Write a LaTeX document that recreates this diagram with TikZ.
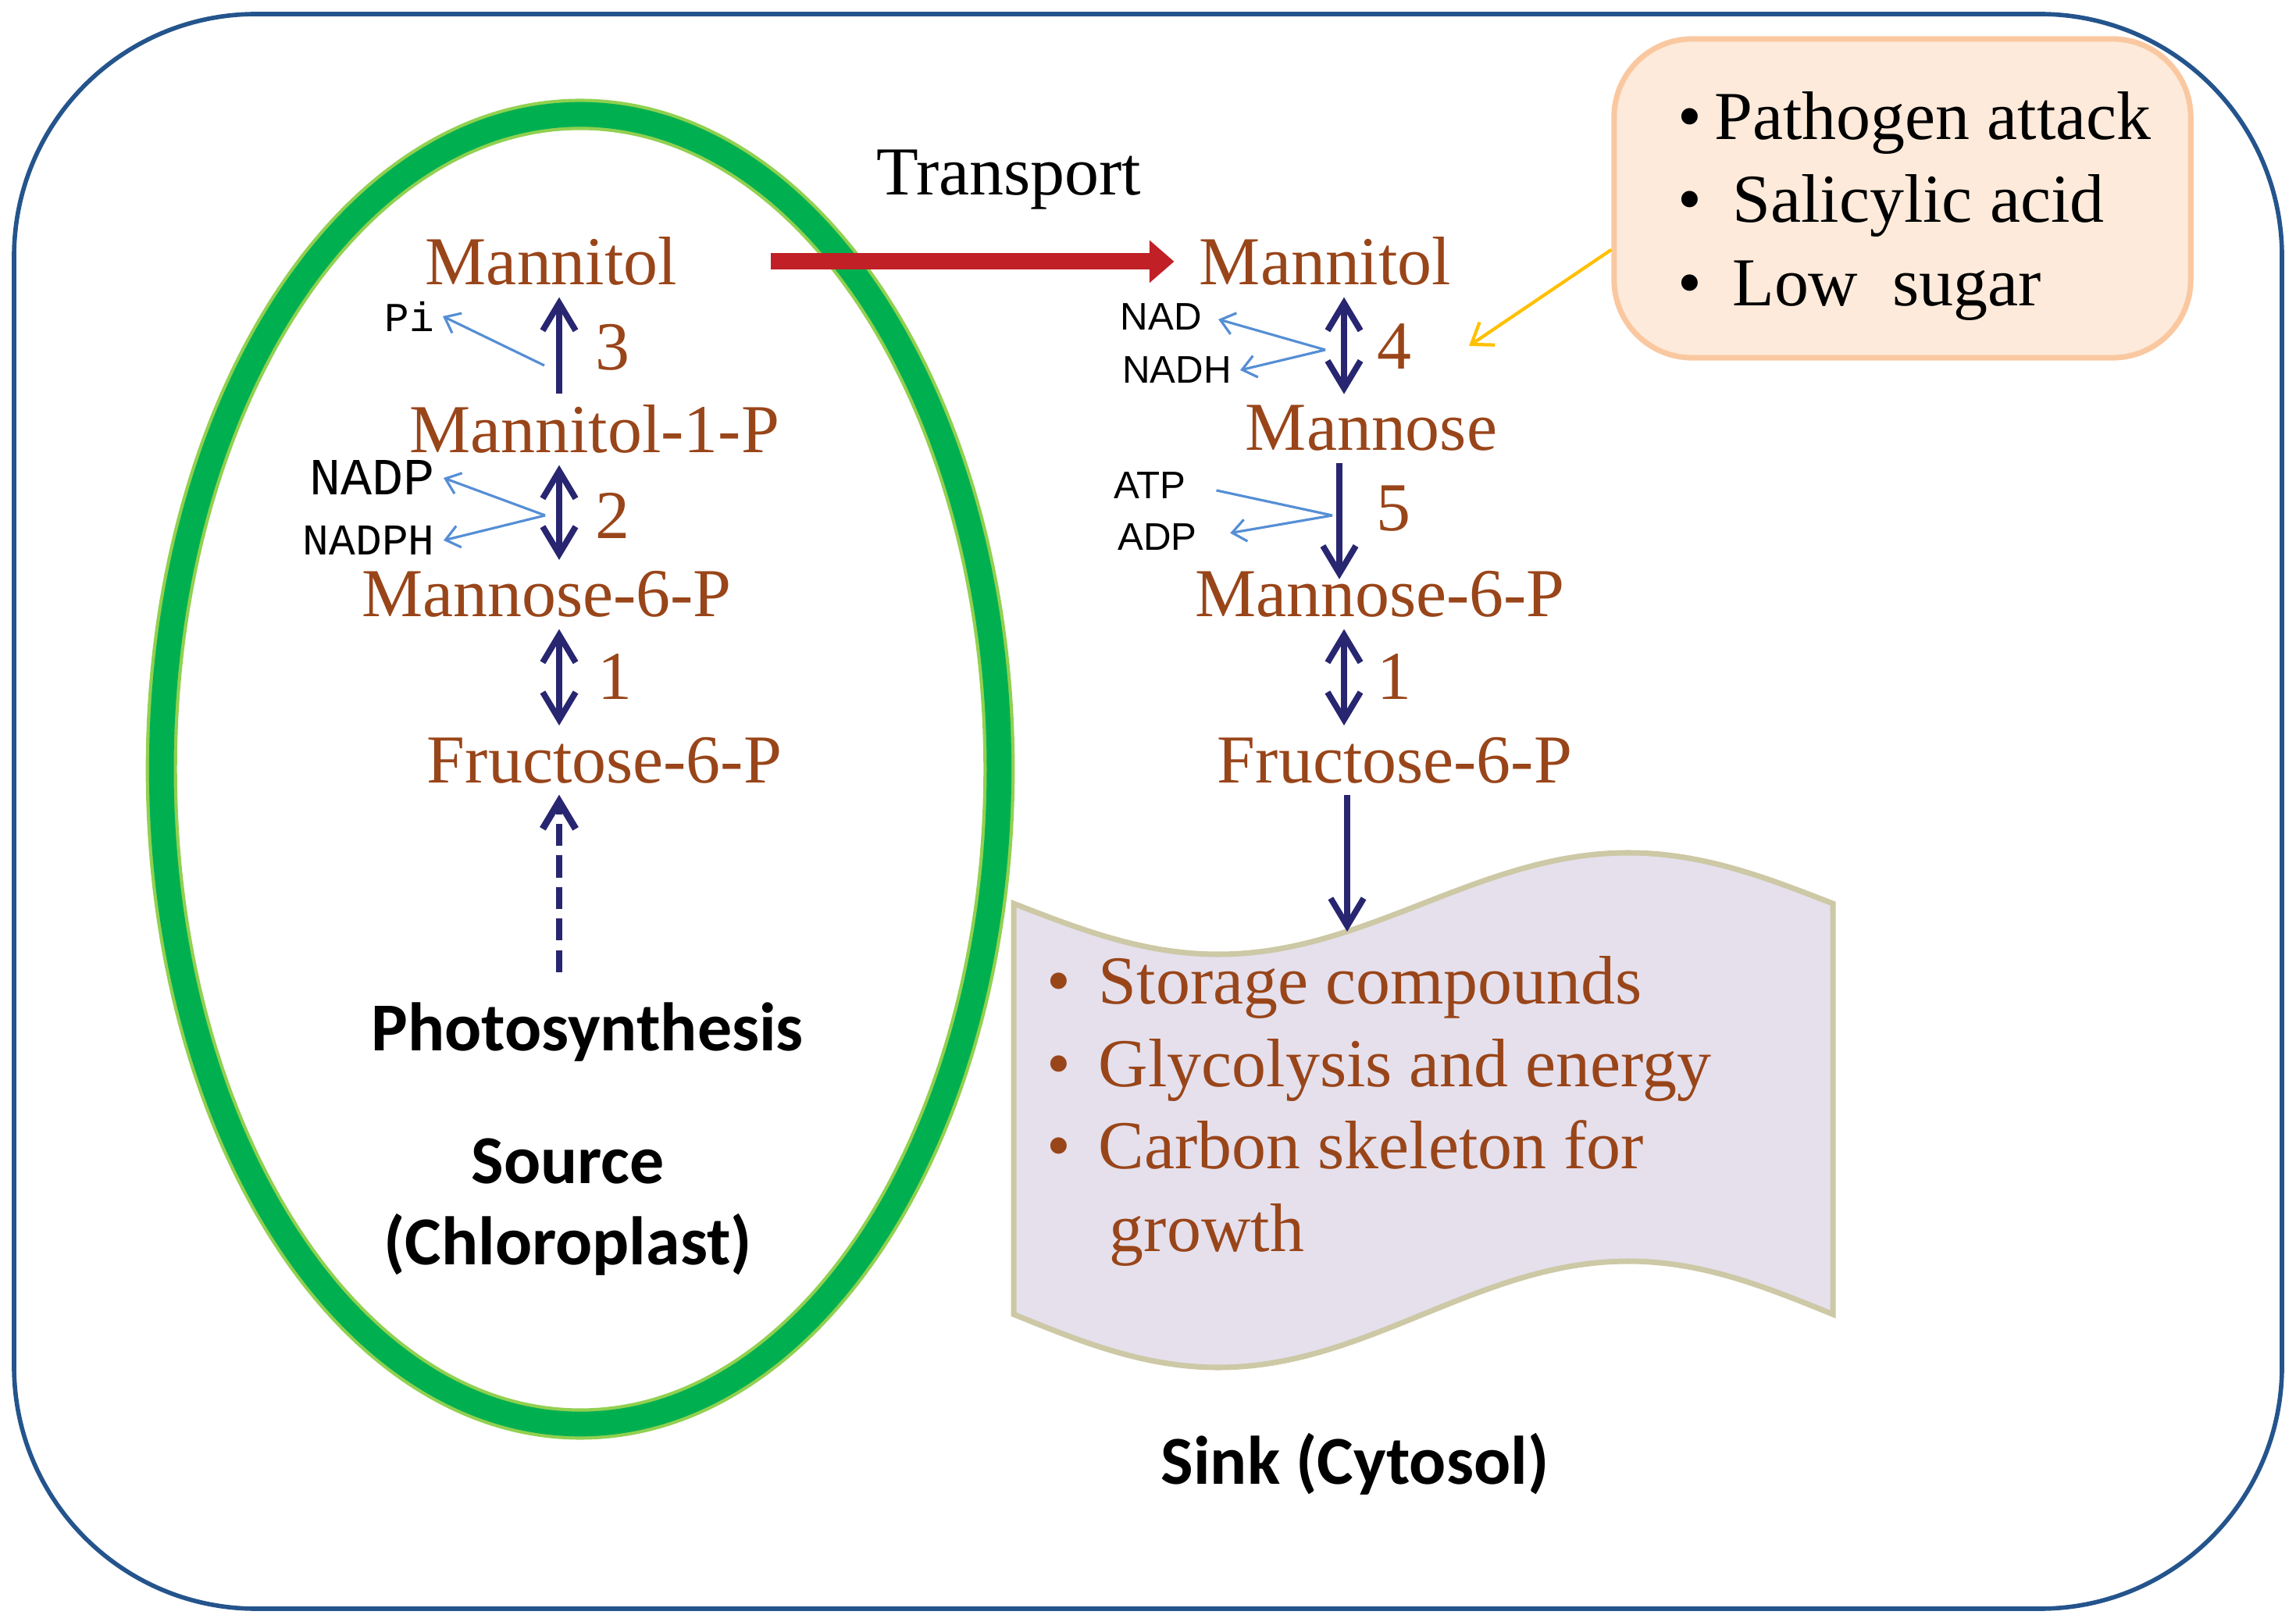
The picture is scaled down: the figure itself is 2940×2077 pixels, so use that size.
\documentclass[tikz,border=0pt]{standalone}
\usepackage{fontspec}
\setmainfont{Liberation Serif}
\newfontfamily\calfont{Carlito}
\newfontfamily\arialfont{Liberation Sans}
\newfontfamily\courfont{Liberation Mono}
\usetikzlibrary{arrows.meta}
\definecolor{frameblue}{RGB}{36,84,140}
\definecolor{leafdark}{RGB}{0,176,80}
\definecolor{leaflight}{RGB}{146,208,80}
\definecolor{metbrown}{RGB}{153,69,26}
\definecolor{enzblue}{RGB}{40,38,112}
\definecolor{sideblue}{RGB}{85,142,213}
\definecolor{transred}{RGB}{192,32,38}
\definecolor{signalgold}{RGB}{255,192,0}
\definecolor{peachfill}{RGB}{253,234,218}
\definecolor{peachline}{RGB}{250,200,160}
\definecolor{wavefill}{RGB}{229,224,236}
\definecolor{waveline}{RGB}{205,200,165}

\begin{document}
\begin{tikzpicture}[x=0.01cm,y=-0.01cm,
	met/.style={anchor=base,inner sep=4pt,text=metbrown,font=\fontsize{25}{30}\selectfont},
	enznum/.style={inner sep=2pt,text=metbrown,font=\fontsize{25}{30}\selectfont},
	cofac/.style={anchor=east,inner sep=3pt},
	cofacs/.style={anchor=east,inner sep=3pt,font=\arialfont\fontsize{14}{17}\selectfont},
	sitelabel/.style={inner sep=4pt,font=\calfont\bfseries\fontsize{25}{30}\selectfont},
	enzarrow/.style={enzblue,line width=2.2pt,>={Straight Barb[length=10pt,width=12pt]},->},
	revarrow/.style={enzarrow,<->},
	sidearrow/.style={sideblue,line width=0.9pt,-{Straight Barb[length=5pt,width=8pt]}}]
	\useasboundingbox (0,0) rectangle (2940,2077);
	% cell and chloroplast
	\draw[frameblue, line width=1.6pt, rounded corners=3.1cm] (18,18) rectangle (2922,2060);
	\coordinate (plast) at (743,985);
	\draw[leaflight, line width=11.4pt] (plast) ellipse [x radius=5.36cm, y radius=8.38cm];
	\draw[leafdark, line width=9pt] (plast) ellipse [x radius=5.36cm, y radius=8.38cm];
	% sink banner
	\draw[fill=wavefill, draw=waveline, line width=2pt] (1298,1157) sin (1560,1222) cos (1822,1157) sin (2085,1092) cos (2347,1157)
		-- (2347,1683) sin (2085,1615) cos (1822,1683) sin (1560,1751) cos (1298,1683) -- cycle;
	\node[anchor=north west, inner sep=0pt, align=left, text=metbrown, font=\fontsize{25}{30}\selectfont] (uses) at (1340,1224)
		{\makebox[18.8pt][l]{\textbullet}Storage compounds\\ \makebox[18.8pt][l]{\textbullet}Glycolysis and energy\\
		 \makebox[18.8pt][l]{\textbullet}Carbon skeleton for\\ \hspace*{22.8pt}growth};
	\node[draw=peachline, fill=peachfill, line width=2pt, rounded corners=1cm, minimum width=7.38cm, minimum height=4.08cm,
		align=left, font=\fontsize{25}{30.4}\selectfont] (cause) at (2436,254)
		{\rule{0pt}{23pt}\hspace*{8.8pt}\makebox[13.4pt][l]{\textbullet}Pathogen attack\\ \hspace*{8.8pt}\makebox[19.9pt][l]{\textbullet}Salicylic acid\\
		 \hspace*{8.8pt}\makebox[19.9pt][l]{\textbullet}Low~~sugar};
	% source side
	\node[met] (lMan) at (706,365) {Mannitol};
	\node[met] (lM1P) at (761,580) {Mannitol-1-P};
	\node[met] (lM6P) at (700,790) {Mannose-6-P};
	\node[met] (lF6P) at (774,1002) {Fructose-6-P};
	\node[enznum] (n3) at (784,445) {3};
	\node[enznum] (n2) at (784,660) {2};
	\node[enznum] (n1l) at (787,866) {1};
	\node[cofac, font=\courfont\fontsize{15}{18}\selectfont] (pi) at (567,405) {Pi};
	\node[cofac, font=\courfont\fontsize{19}{22}\selectfont] (nadp) at (568,612) {NADP};
	\node[cofac, font=\courfont\fontsize{16}{19}\selectfont] (nadph) at (568,692) {NADPH};
	\node[sitelabel] (photo) at (752,1322) {Photosynthesis};
	\node[sitelabel] (src) at (727,1487) {Source};
	\node[sitelabel] (chl) at (727,1594) {(Chloroplast)};
	% sink side
	\node[met] (rMan) at (1697,365) {Mannitol};
	\node[met] (rMno) at (1756,577) {Mannose};
	\node[met] (rM6P) at (1767,790) {Mannose-6-P};
	\node[met] (rF6P) at (1786,1002) {Fructose-6-P};
	\node[enznum] (n4) at (1785,444) {4};
	\node[enznum] (n5) at (1784,651) {5};
	\node[enznum] (n1r) at (1785,866) {1};
	\node[cofacs] (nad) at (1550,406) {NAD};
	\node[cofacs] (nadh) at (1588,474) {NADH};
	\node[cofacs] (atp) at (1530,622) {ATP};
	\node[cofacs] (adp) at (1544,688) {ADP};
	\node[sitelabel] (sink) at (1735,1875) {Sink (Cytosol)};
	\node[font=\fontsize{25}{30}\selectfont] (trans) at (1292,230) {Transport};
	% columns and branch points
	\coordinate (lcol) at (716,0);
	\coordinate (rcol) at (1721,0);
	\coordinate (rcolb) at (1715,0);
	\coordinate (c3) at (697,468);
	\coordinate (c2) at (698,660);
	\coordinate (c4) at (1697,448);
	\coordinate (c5) at (1706,660);
	\coordinate (wtop) at (1725,1193);
	\coordinate (sig4) at (1881,443);
	% pathway arrows
	\draw[enzarrow] (lM1P.north -| lcol) -- (lMan.south -| lcol);
	\draw[revarrow] (lM1P.south -| lcol) -- (lM6P.north -| lcol);
	\draw[revarrow] (lM6P.south -| lcol) -- (lF6P.north -| lcol);
	\draw[enzarrow, line width=2.5pt, dash pattern=on 8pt off 3.5pt, shorten <=7pt] (photo.north -| lcol) -- (lF6P.south -| lcol);
	\draw[revarrow] (rMan.south -| rcol) -- (rMno.north -| rcol);
	\draw[enzarrow, shorten >=-7pt] (rMno.south -| rcolb) -- (rM6P.north -| rcolb);
	\draw[revarrow] (rM6P.south -| rcol) -- (rF6P.north -| rcol);
	\draw[enzarrow] (rF6P.south -| wtop) -- (wtop);
	% cofactors
	\draw[sidearrow] (c3) -- (pi.east);
	\draw[sidearrow] (c2) -- (nadp.east);
	\draw[sidearrow] (c2) -- (nadph.east);
	\draw[sidearrow, shorten >=3pt] (c4) -- (nad.east);
	\draw[sidearrow] (c4) -- (nadh.east);
	\draw[sideblue, line width=0.9pt, shorten <=8pt] (atp.east) -- (c5);
	\draw[sidearrow, shorten >=9pt] (c5) -- (adp.east);
	% transport and signals
	\draw[transred, line width=6pt, -{Triangle[length=9pt,width=15pt]}, shorten <=30pt, shorten >=5pt] (lMan.east) -- (rMan.west);
	\draw[signalgold, line width=1.2pt, -{Straight Barb[length=7pt,width=10pt]}] (cause.190) -- (sig4);
\end{tikzpicture}
\end{document}
